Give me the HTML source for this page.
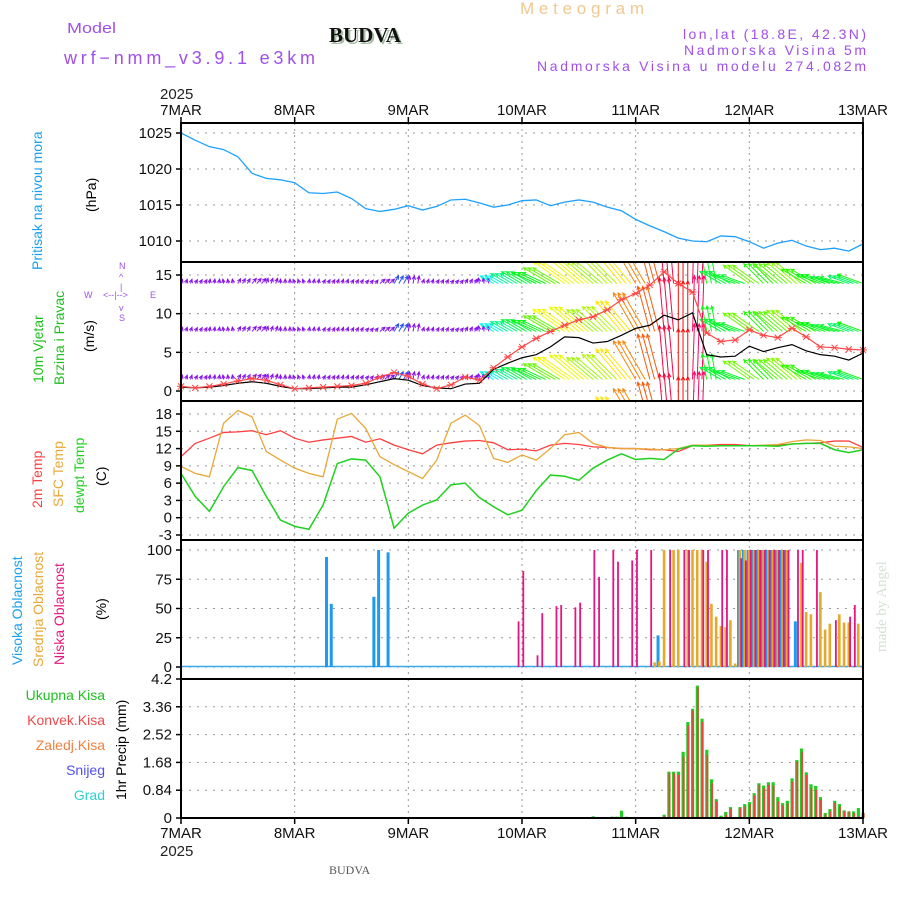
<!DOCTYPE html>
<html><head><meta charset="utf-8"><style>
html,body{margin:0;padding:0;background:#fff;width:900px;height:900px;overflow:hidden}
svg{display:block;font-family:"Liberation Sans",sans-serif}
</style></head><body>
<svg id="chart" width="900" height="900" viewBox="0 0 900 900">
<defs>
<clipPath id="clipW"><rect x="181" y="262" width="682" height="139"/></clipPath>
</defs>
<g>
<text x="67" y="33" font-size="15" fill="#a050e8" textLength="49" lengthAdjust="spacingAndGlyphs">Model</text>
<text x="64" y="64" font-size="18" fill="#a050e8" textLength="251" lengthAdjust="spacing">wrf−nmm_v3.9.1 e3km</text>
<text x="331" y="44" font-size="21" font-weight="bold" font-family="Liberation Serif, serif" fill="#a8c0a8">BUDVA</text>
<text x="329" y="42" font-size="21" font-weight="bold" font-family="Liberation Serif, serif" fill="#111">BUDVA</text>
<text x="520" y="14" font-size="17" fill="#f0c890" textLength="124" lengthAdjust="spacing">Meteogram</text>
<text x="683" y="39" font-size="14" fill="#a050e8" textLength="183" lengthAdjust="spacing">lon,lat (18.8E, 42.3N)</text>
<text x="684" y="55" font-size="14" fill="#a050e8" textLength="182" lengthAdjust="spacing">Nadmorska Visina 5m</text>
<text x="537" y="71" font-size="14" fill="#a050e8" textLength="329" lengthAdjust="spacing">Nadmorska Visina u modelu 274.082m</text>
<text x="160" y="99" font-size="15" fill="#222">2025</text>
<text x="160" y="856" font-size="15" fill="#222">2025</text>
<text x="329" y="874" font-size="12" font-family="Liberation Serif, serif" fill="#555">BUDVA</text>
<text transform="translate(886,652) rotate(-90)" font-size="15" font-family="Liberation Serif, serif" fill="#d4e2d4">made by Angel</text>
</g>
<g font-size="14">
<text transform="translate(42,270) rotate(-90)" fill="#1aa0f0">Pritisak na nivou mora</text>
<text transform="translate(96,212) rotate(-90)" fill="#000">(hPa)</text>
<text transform="translate(43,383) rotate(-90)" fill="#20c020">10m Vjetar</text>
<text transform="translate(64,385) rotate(-90)" fill="#20c020">Brzina i Pravac</text>
<text transform="translate(94,352) rotate(-90)" fill="#000">(m/s)</text>
<text transform="translate(42,508) rotate(-90)" fill="#ff4040">2m Temp</text>
<text transform="translate(63,507) rotate(-90)" fill="#e8a838">SFC Temp</text>
<text transform="translate(84,513) rotate(-90)" fill="#20d020">dewpt Temp</text>
<text transform="translate(106,486) rotate(-90)" fill="#000">(C)</text>
<text transform="translate(22,665) rotate(-90)" fill="#1aa0f0">Visoka Oblacnost</text>
<text transform="translate(43,667) rotate(-90)" fill="#e8a838">Srednja Oblacnost</text>
<text transform="translate(64,665) rotate(-90)" fill="#e8157e">Niska Oblacnost</text>
<text transform="translate(106,620) rotate(-90)" fill="#000">(%)</text>
<text x="105" y="700" text-anchor="end" fill="#20c020">Ukupna Kisa</text>
<text x="105" y="725" text-anchor="end" fill="#f04848">Konvek.Kisa</text>
<text x="105" y="750" text-anchor="end" fill="#f08040">Zaledj.Kisa</text>
<text x="105" y="775" text-anchor="end" fill="#5050f0">Snijeg</text>
<text x="105" y="800" text-anchor="end" fill="#30d0d0">Grad</text>
<text transform="translate(126,800) rotate(-90)" fill="#000">1hr Precip (mm)</text>
</g>
<g font-size="9" fill="#a050e8">
<text x="119" y="269">N</text><text x="119" y="280">^</text><text x="120" y="290">|</text>
<text x="119" y="311">v</text><text x="119" y="321">S</text>
<text x="84" y="298">W</text><text x="103" y="298">&lt;--|--&gt;</text><text x="150" y="298">E</text>
</g>
<g id="grid"></g>
<g id="marks"></g>
<g id="axes"></g>
</svg>
<script>
// ---- data (3-hourly, hour 0..144) ----
const dayLabels = ["7MAR","8MAR","9MAR","10MAR","11MAR","12MAR","13MAR"];
const pressure = [1025.0,1024.0,1023.1,1022.7,1021.7,1019.4,1018.7,1018.5,1018.1,1016.7,1016.6,1016.8,1015.9,1014.5,1014.1,1014.4,1014.9,1014.3,1014.8,1015.7,1015.8,1015.3,1014.7,1015.0,1015.6,1015.7,1014.9,1015.4,1015.7,1015.4,1014.7,1014.2,1013.0,1012.1,1011.3,1010.4,1010.0,1009.9,1010.7,1010.6,1009.9,1009.0,1009.7,1010.1,1009.3,1008.8,1009.0,1008.6,1009.6];
const windSpeed = [0.5,0.4,0.5,0.7,1.0,1.2,1.0,0.6,0.3,0.3,0.4,0.5,0.5,0.8,1.2,1.6,1.4,0.7,0.4,0.3,0.9,1.0,2.8,3.6,4.3,4.7,5.7,7.0,6.9,6.2,6.4,7.2,8.1,8.5,9.8,9.2,10.1,4.7,4.4,4.5,5.8,5.1,5.6,6.0,5.2,4.7,4.5,4.0,4.9];
const windGust = [0.6,0.4,0.6,0.9,1.3,1.6,1.4,0.8,0.3,0.4,0.5,0.6,0.7,1.0,1.8,2.4,1.9,0.9,0.3,0.8,1.8,1.4,3.0,4.4,5.7,6.8,7.7,8.5,9.2,9.6,10.5,11.8,12.6,13.7,15.4,13.9,12.8,7.5,6.4,6.6,7.9,7.2,6.9,8.1,7.0,5.7,5.6,5.4,5.3];
const windDir = [70,60,80,100,60,50,70,90,110,80,60,70,60,50,40,60,80,70,60,50,60,100,150,150,150,155,150,145,140,140,135,130,120,105,95,90,88,100,150,160,145,135,140,140,150,160,165,160,160];
const temp2m = [10.6,12.9,13.8,14.8,14.9,15.1,14.4,15.1,13.8,13.1,13.5,13.8,14.1,13.1,13.7,12.6,11.8,11.1,12.6,13.0,13.3,13.4,13.0,11.8,11.9,11.6,12.6,12.9,12.7,12.3,12.2,12.0,12.0,11.8,11.8,11.5,12.5,12.6,12.7,12.7,12.5,12.5,12.6,12.8,12.9,13.0,13.3,13.3,12.2];
const sfcTemp = [8.9,7.7,7.1,16.4,18.6,17.5,11.5,10.0,8.6,7.7,7.1,17.1,18.1,15.5,10.6,9.2,8.0,6.8,10.0,16.4,17.8,16.0,10.3,9.6,10.9,10.0,12.0,14.4,14.8,12.9,12.2,12.0,12.0,11.9,11.8,12.0,12.6,12.6,12.5,12.5,12.5,12.6,12.7,13.2,13.5,13.4,12.4,12.3,12.0];
const dewTemp = [7.7,3.7,1.1,5.4,8.7,8.2,3.7,-0.4,-1.5,-2.0,2.2,9.4,10.2,10.0,7.1,-1.8,0.8,2.2,3.1,5.7,6.0,3.5,1.9,0.5,1.3,4.7,7.4,7.2,6.5,8.6,10.0,11.1,10.1,10.3,10.1,11.9,12.5,12.4,12.5,12.5,12.5,12.5,12.4,12.8,12.9,12.9,11.8,11.3,11.8];
// clouds (hour, percent)
const lowCloudHours = [71,72,75,76,79,80,83,84,87,88,91,92,95,96,99,103,106,107,110,111,114,115,118,119,120,121,122,123,124,125,126,127,128,130,131,134,138,141,142];
const lowCloudValues = [39,82,10,46,52,53,51,55,100,77,100,90,91,100,100,100,100,100,100,100,100,100,93,91,100,100,100,100,100,100,100,100,100,100,100,100,40,43,53];
const midCloudHours = [100,101,102,104,105,107,108,109,110,111,112,113,114,115,116,117,118,119,120,121,122,123,124,125,126,127,128,131,132,133,135,136,137,139,140,141,143];
const midCloudValues = [4,5,100,100,100,100,100,100,100,90,54,43,35,34,40,3,100,100,100,100,100,100,100,100,100,100,100,89,47,45,64,32,37,45,38,38,37];
const highCloudHours = [31,32,41,42,44,101,118,119,120,121,122,123,124,125,126,127,128,130];
const highCloudValues = [94,54,60,100,98,27,100,100,100,100,100,100,100,100,100,100,100,39];
// precip hourly from hour 86 to 144
const precipStartHour = 86;
const precipTotal = [0.03,0.05,0,0.03,0,0.04,0.04,0.22,0.04,0,0,0,0,0,0,0,0.1,1.4,1.4,1.4,2.0,2.9,3.3,4.0,3.0,2.06,1.17,0.57,0.07,0.18,0.33,0,0.33,0.42,0.48,0.75,1.05,0.98,1.08,1.08,0.63,0.45,0.52,1.2,1.75,2.1,1.38,1.02,0.97,0.63,0.15,0.27,0.52,0.42,0.23,0.2,0.2,0.3,0.15];
const precipConv = [0,0,0,0,0,0,0,0,0,0,0,0,0,0,0,0,0.05,1.35,1.35,1.3,1.85,2.8,3.25,3.95,2.9,1.9,1.05,0.5,0.03,0.1,0.28,0,0.3,0.35,0.42,0.68,1.0,0.9,1.0,0.98,0.5,0.38,0.45,1.1,1.7,2.0,1.3,0.9,0.85,0.55,0.1,0.2,0.45,0.35,0.2,0.2,0.15,0.05,0.15];
const pTicks = [1010,1015,1020,1025];
const wTicks = [0,5,10,15];
const tTicks = [-3,0,3,6,9,12,15,18];
const cTicks = [0,25,50,75,100];
const rTicks = [0,0.84,1.68,2.52,3.36,4.2];

// ---- scales ----
const X0=181, X1=863;
const xH = h => X0 + h*(X1-X0)/144;
const yP = p => 133 + (1025-p)*7.2;
const yW = v => 391 - v*7.733;
const yT = t => 414 + (18-t)*5.762;
const yC = c => 667 - c*1.17;
const yR = r => 818 - r*139/4.2;
const NS="http://www.w3.org/2000/svg";
function mk(tag, attrs, parent){const e=document.createElementNS(NS,tag);for(const k in attrs)e.setAttribute(k,attrs[k]);parent.appendChild(e);return e;}
const grid=document.getElementById('grid'), marks=document.getElementById('marks'), axes=document.getElementById('axes');
const panels=[{top:123,bot:262,ticks:pTicks,f:yP},{top:262,bot:401,ticks:wTicks,f:yW},{top:401,bot:540,ticks:tTicks,f:yT},{top:540,bot:679,ticks:cTicks,f:yC},{top:679,bot:818,ticks:rTicks,f:yR}];
const pnames=['pressure','wind','temperature','cloud','precip'];
panels.forEach((p,i)=>{
  for(let d=1;d<6;d++){const l=mk('line',{x1:xH(d*24),x2:xH(d*24),y1:p.top,y2:p.bot,stroke:'#999','stroke-dasharray':'2,4'},grid);
    
    }
  p.ticks.forEach(v=>{const y=p.f(v);
    if(y>p.top+2&&y<p.bot-2){const g=mk('line',{x1:X0,x2:X1,y1:y,y2:y,stroke:'#999','stroke-dasharray':'2,6'},grid);
      
      }
    mk('line',{x1:X0-5,x2:X0,y1:y,y2:y,stroke:'#000','stroke-width':1.5},axes);
    const t=mk('text',{x:X0-9,y:y+5,'text-anchor':'end','font-size':15,fill:'#111'},axes);
    t.textContent=v;
    
    
  });
  const r=mk('rect',{x:X0,y:p.top,width:X1-X0,height:p.bot-p.top,fill:'none',stroke:'#000','stroke-width':2},axes);
  
  
});
dayLabels.forEach((d,i)=>{const x=xH(i*24);
  [[115,123,117],[838,818,824]].forEach(([ty,ya,yb])=>{
    const t=mk('text',{x:x,y:ty,'text-anchor':'middle','font-size':15,fill:'#111'},axes);t.textContent=d;
    
    
    mk('line',{x1:x,x2:x,y1:ya,y2:yb,stroke:'#000','stroke-width':1.5},axes);
  });
});
function line(arr,f,color,name,w){const pts=arr.map((v,k)=>xH(k*3)+','+f(v)).join(' ');
  const e=mk('polyline',{points:pts,fill:'none',stroke:color,'stroke-width':w||1.3},marks);
  
  return e;}
line(pressure,yP,'#1ea0ff','pressure-line');
// wind arrows
const wg=mk('g',{'clip-path':'url(#clipW)'},marks);


const bases=[1.5,7.7,13.9,-4.7];
function windColor(sp){
  if(sp<1.5) return 'hsl(272,85%,50%)';
  if(sp<2.5) return 'hsl(228,90%,55%)';
  let hue=(250-sp*27+360)%360;
  return 'hsl('+hue+',95%,50%)';
}
for(let h=0;h<=144;h++){
  const k=Math.min(48,Math.floor(h/3));
  const sp=windSpeed[k], dir=windDir[k]*Math.PI/180;
  const L=Math.max(sp,0.8)*5.5, x=xH(h);
  const col=windColor(sp);
  bases.forEach(b=>{
    const y=yW(b), x2=x+L*Math.cos(dir), y2=y-L*Math.sin(dir);
    const a1=dir+Math.PI-0.45,a2=dir+Math.PI+0.45;
    const ar=mk('path',{d:`M${x},${y}L${x2},${y2}M${x2+4*Math.cos(a1)},${y2-4*Math.sin(a1)}L${x2},${y2}L${x2+4*Math.cos(a2)},${y2-4*Math.sin(a2)}`,stroke:col,'stroke-width':1,fill:'none'},wg);
    
    
  });
}
line(windSpeed,yW,'#000','wind-speed-line',1.2);
line(windGust,yW,'#ff4848','wind-gust-line',1.2);
windGust.forEach((v,k)=>{const x=xH(k*3),y=yW(v);
  const m=mk('path',{d:`M${x-3},${y-3}L${x+3},${y+3}M${x-3},${y+3}L${x+3},${y-3}M${x-4},${y}L${x+4},${y}`,stroke:'#ff4848','stroke-width':1},marks);
  
  });
line(temp2m,yT,'#ff4040','temp-2m-line');
line(sfcTemp,yT,'#e8a838','sfc-temp-line');
line(dewTemp,yT,'#20d020','dewpoint-line',1.5);
// clouds
mk('line',{x1:X0,x2:X1,y1:666.5,y2:666.5,stroke:'#3aa8e8','stroke-width':1.5},marks);
function bars(hs,vs,color,off,w,name){hs.forEach((h,i)=>{const x=xH(h)+off, y=yC(vs[i]);
  const r=mk('rect',{x:x-w/2,y:y,width:w,height:667-y,fill:color},marks);
  
  });}
bars(highCloudHours,highCloudValues,'#1e9bf0',-1.3,3,'high-cloud-bar');
bars(midCloudHours,midCloudValues,'#e6a82d',0,2.6,'mid-cloud-bar');
bars(lowCloudHours,lowCloudValues,'#e8157e',1.3,1.8,'low-cloud-bar');
// precip
precipTotal.forEach((v,i)=>{if(v<=0)return;const x=xH(precipStartHour+i);
  const r=mk('rect',{x:x-1.5,y:yR(v),width:3.2,height:818-yR(v),fill:'#22cc22'},marks);
  
  
  const c=precipConv[i]; if(c>0){
  const r2=mk('rect',{x:x-0.3,y:yR(c),width:1.8,height:818-yR(c),fill:'#f04040'},marks);
  
  }
});
</script>
</body></html>
